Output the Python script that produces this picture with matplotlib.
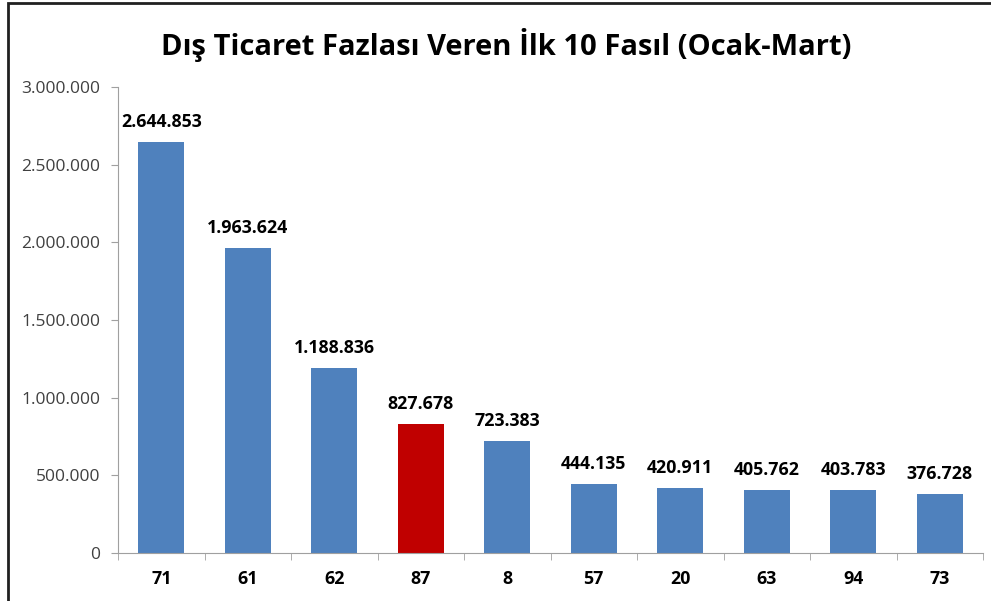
import matplotlib.pyplot as plt
from matplotlib.patches import Rectangle
from matplotlib.ticker import FuncFormatter

# Fasıl codes and export surplus values
fasil = ['71', '61', '62', '87', '8', '57', '20', '63', '94', '73']
fazla = [2644853, 1963624, 1188836, 827678, 723383, 444135, 420911, 405762, 403783, 376728]
renkler = ['#4F81BD', '#4F81BD', '#4F81BD', '#C00000', '#4F81BD',
           '#4F81BD', '#4F81BD', '#4F81BD', '#4F81BD', '#4F81BD']

plt.rcParams['font.family'] = ['Open Sans', 'DejaVu Sans']


def tr_format(v, pos=None):
    return f'{int(v):,}'.replace(',', '.')


fig = plt.figure(figsize=(9.91, 6.01), dpi=100)
ax = fig.add_axes([118 / 991, 1 - 553 / 601, 865 / 991, 466 / 601])

x = range(len(fasil))
bars = ax.bar(x, fazla, width=0.53, color=renkler)

ax.set_xlim(-0.5, len(fasil) - 0.5)
ax.set_ylim(0, 3000000)
ax.set_yticks(range(0, 3000001, 500000))
ax.yaxis.set_major_formatter(FuncFormatter(tr_format))
ax.tick_params(axis='y', labelsize=12.5, colors='#404040', length=5, color='#A0A0A0', pad=8)

ax.set_xticks(list(x))
ax.set_xticklabels(fasil, fontsize=12.8, fontweight='bold')
ax.set_xticks([i + 0.5 for i in range(-1, len(fasil))], minor=True)
ax.tick_params(axis='x', which='major', length=0, pad=12)
ax.tick_params(axis='x', which='minor', length=5, color='#A0A0A0')

for s in ['top', 'right']:
    ax.spines[s].set_visible(False)
for s in ['left', 'bottom']:
    ax.spines[s].set_color('#A0A0A0')

for b, v in zip(bars, fazla):
    ax.annotate(tr_format(v), (b.get_x() + b.get_width() / 2, v),
                xytext=(0, 8), textcoords='offset points',
                ha='center', va='bottom', fontsize=12.8, fontweight='bold')

fig.text(506 / 991, 1 - 45 / 601, 'Dış Ticaret Fazlası Veren İlk 10 Fasıl (Ocak-Mart)',
         ha='center', va='center', fontsize=21, fontweight='bold')

# outer frame, right and bottom edges fall outside the image
fig.patches.append(Rectangle((8 / 991, -0.1), 1.2, 1.1 - 3 / 601,
                             transform=fig.transFigure, fill=False,
                             edgecolor='#202020', linewidth=2))

plt.savefig('out.png')
